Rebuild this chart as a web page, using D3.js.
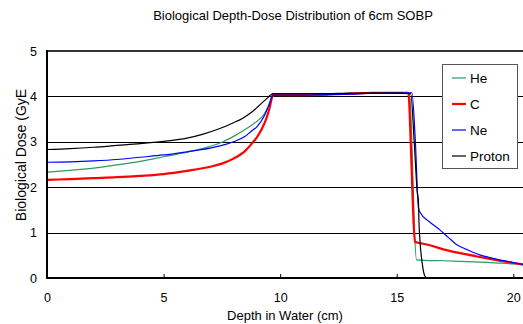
<!DOCTYPE html>
<html>
<head>
<meta charset="utf-8">
<script src="https://cdn.jsdelivr.net/npm/d3@7/dist/d3.min.js"></script>
<style>
  html, body { margin: 0; padding: 0; background: #fff; }
  svg { display: block; font-family: Arial, "Liberation Sans", sans-serif; }
</style>
</head>
<body>
<svg id="chart" width="523" height="324"></svg>
<script>
// ---- data ----
const title = "Biological Depth-Dose Distribution of 6cm SOBP";
const xLabel = "Depth in Water (cm)";
const yLabel = "Biological Dose (GyE";
const xTicks = [0, 5, 10, 15, 20];
const yTicks = [0, 1, 2, 3, 4, 5];
const seriesNames = ["He", "C", "Ne", "Proton"];

const heDepth = [0, 1, 2, 3, 4, 5, 6, 7, 7.5, 8, 8.5, 9, 9.3, 9.5, 9.7, 10, 11, 12, 13, 14, 15, 15.55, 15.65, 15.75, 15.85, 16.2, 17, 18, 19, 20, 20.5];
const heDose  = [2.33, 2.37, 2.42, 2.49, 2.57, 2.67, 2.77, 2.9, 2.99, 3.12, 3.27, 3.45, 3.6, 3.8, 4.05, 4.04, 4.04, 4.05, 4.06, 4.07, 4.07, 4.06, 3.0, 1.2, 0.40, 0.39, 0.38, 0.36, 0.34, 0.31, 0.30];

const cDepth = [0, 1, 2, 3, 4, 5, 6, 7, 7.5, 8, 8.5, 8.8, 9, 9.2, 9.4, 9.55, 9.7, 10, 11, 12, 13, 14, 15, 15.5, 15.6, 15.7, 15.78, 16, 16.5, 17, 18, 19, 20, 20.5];
const cDose  = [2.16, 2.18, 2.2, 2.22, 2.25, 2.29, 2.36, 2.45, 2.52, 2.63, 2.8, 2.97, 3.1, 3.27, 3.5, 3.75, 4.04, 4.03, 4.03, 4.04, 4.06, 4.08, 4.08, 4.08, 3.0, 1.5, 0.80, 0.77, 0.71, 0.63, 0.52, 0.42, 0.33, 0.29];

const neDepth = [0, 1, 2, 3, 4, 5, 6, 7, 7.5, 8, 8.5, 8.8, 9, 9.3, 9.5, 9.7, 10, 11, 12, 13, 14, 15, 15.65, 15.8, 15.93, 16.0, 16.4, 16.85, 17.2, 17.56, 18, 18.56, 19, 19.4, 20, 20.5];
const neDose  = [2.55, 2.56, 2.58, 2.61, 2.66, 2.71, 2.78, 2.86, 2.92, 3.0, 3.12, 3.25, 3.33, 3.55, 3.78, 4.03, 4.03, 4.03, 4.04, 4.05, 4.07, 4.08, 4.08, 3.0, 1.55, 1.45, 1.24, 1.06, 0.9, 0.74, 0.63, 0.51, 0.45, 0.40, 0.34, 0.29];

const pDepth = [0, 1, 2, 3, 4, 5, 6, 6.7, 7.3, 8, 8.4, 8.8, 9.1, 9.4, 9.7, 10, 11, 12, 13, 14, 15, 15.6, 15.75, 15.88, 15.93, 15.95, 16.0, 16.1, 16.2, 16.3];
const pDose  = [2.83, 2.85, 2.88, 2.92, 2.96, 3.01, 3.08, 3.17, 3.27, 3.42, 3.52, 3.66, 3.8, 3.94, 4.06, 4.06, 4.06, 4.06, 4.07, 4.07, 4.07, 4.06, 3.0, 1.9, 1.7, 1.3, 0.8, 0.3, 0.05, 0.0];

const seriesDepth = [heDepth, cDepth, neDepth, pDepth];
const seriesDose = [heDose, cDose, neDose, pDose];
const seriesColor = ["#2e9960", "#ff0000", "#0000ff", "#000000"];
const seriesWidth = [1.2, 2.2, 1.2, 1.2];

// ---- layout ----
const svg = d3.select("#chart");
const plotLeft = 47, plotTop = 51, plotBottom = 278;
const x = d3.scaleLinear().domain([0, 20]).range([plotLeft, 513.3]);
const y = d3.scaleLinear().domain([0, 5]).range([plotBottom, plotTop]);
const xMax = 20.6;

// gridlines
svg.append("g").selectAll("line")
  .data(yTicks.filter(d => d > 0 && d < 5))
  .join("line")
  .attr("x1", plotLeft).attr("x2", x(xMax))
  .attr("y1", d => Math.round(y(d)) + 0.5).attr("y2", d => Math.round(y(d)) + 0.5)
  .attr("stroke", "#000").attr("stroke-width", 1);

// top frame
svg.append("line")
  .attr("x1", plotLeft).attr("x2", x(xMax))
  .attr("y1", y(5)).attr("y2", y(5))
  .attr("stroke", "#333").attr("stroke-width", 2);

// series
const line = d3.line().x(d => x(d[0])).y(d => y(d[1])).curve(d3.curveMonotoneX);
seriesNames.forEach((name, i) => {
  const pts = seriesDepth[i].map((d, j) => [d, seriesDose[i][j]]);
  svg.append("path")
    .datum(pts)
    .attr("d", line)
    .attr("fill", "none")
    .attr("stroke", seriesColor[i])
    .attr("stroke-width", seriesWidth[i])
    .attr("stroke-linejoin", "round");
});

// axes
const xAxis = d3.axisBottom(x).tickValues(xTicks).tickSize(-4).tickPadding(15);
const gx = svg.append("g").attr("transform", `translate(0,${plotBottom})`).call(xAxis);
gx.select(".domain").remove();
gx.selectAll(".tick line").attr("stroke", "#000");
gx.selectAll(".tick text").attr("font-size", 12.5).attr("font-family", "Arial, 'Liberation Sans', sans-serif").attr("fill", "#000");
svg.append("line").attr("x1", plotLeft).attr("x2", x(xMax)).attr("y1", plotBottom).attr("y2", plotBottom).attr("stroke", "#000").attr("stroke-width", 2);

const yAxis = d3.axisLeft(y).tickValues(yTicks).tickFormat(d3.format("d")).tickSize(0).tickPadding(10);
const gy = svg.append("g").attr("transform", `translate(${plotLeft},0)`).call(yAxis);
gy.select(".domain").remove();
gy.selectAll(".tick text").attr("font-size", 12.5).attr("font-family", "Arial, 'Liberation Sans', sans-serif").attr("fill", "#000");
svg.append("line").attr("x1", plotLeft).attr("x2", plotLeft).attr("y1", plotTop - 1).attr("y2", plotBottom + 1).attr("stroke", "#000").attr("stroke-width", 2);

// title and labels
svg.append("text").attr("x", 293).attr("y", 20).attr("text-anchor", "middle")
  .attr("font-size", 13).text(title);
svg.append("text").attr("x", 285).attr("y", 320).attr("text-anchor", "middle")
  .attr("font-size", 13).text(xLabel);
svg.append("text").attr("transform", "translate(26,155) rotate(-90)").attr("text-anchor", "middle")
  .attr("font-size", 14).text(yLabel);

// legend
const lg = svg.append("g");
lg.append("rect").attr("x", 442.5).attr("y", 64.5).attr("width", 75).attr("height", 104)
  .attr("fill", "#fff").attr("stroke", "#555").attr("stroke-width", 1);
const legendY = d3.scalePoint().domain(seriesNames).range([78, 156]);
seriesNames.forEach((name, i) => {
  const yy = legendY(name);
  lg.append("line").attr("x1", 452).attr("x2", 466).attr("y1", yy).attr("y2", yy)
    .attr("stroke", seriesColor[i]).attr("stroke-width", seriesWidth[i]);
  lg.append("text").attr("x", 470).attr("y", yy).attr("dy", "0.36em")
    .attr("font-size", 13.5).text(name);
});
</script>
</body>
</html>
